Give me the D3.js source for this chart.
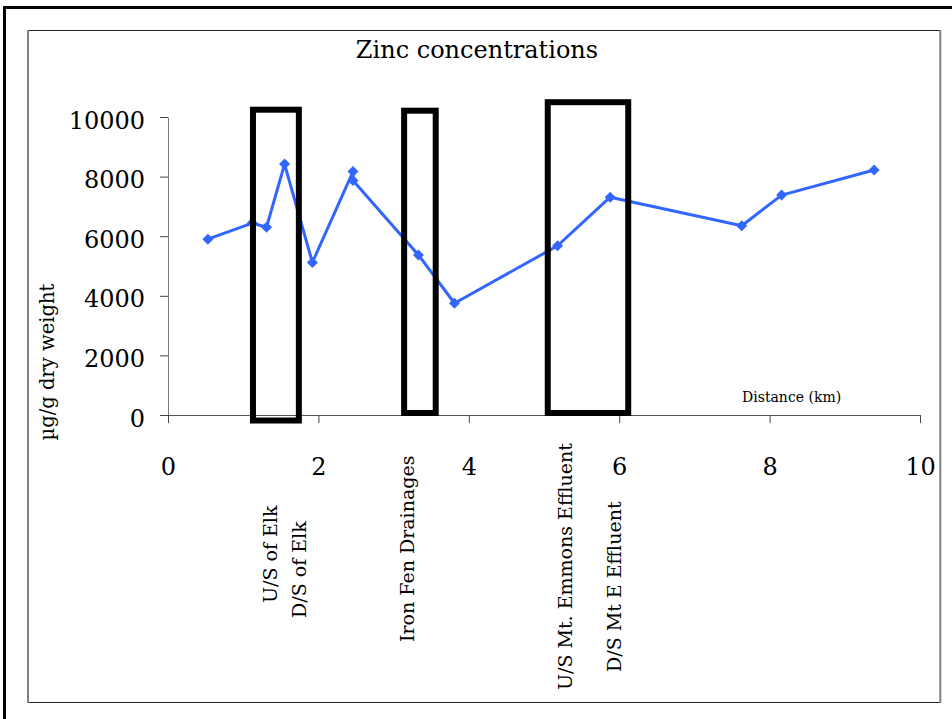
<!DOCTYPE html>
<html>
<head>
<meta charset="utf-8">
<script src="https://cdn.jsdelivr.net/npm/d3@7"></script>
<style>
  html, body { margin: 0; padding: 0; background: #fff; }
  svg { display: block; }
  text { font-family: "DejaVu Serif", "Liberation Serif", serif; fill: #000; }
</style>
</head>
<body>
<script>
// ---- data ----
const title = "Zinc concentrations";
const yTitle = "µg/g dry weight";
const xTitle = "Distance (km)";
const distance = [0.53, 1.12, 1.31, 1.55, 1.92, 2.46, 2.46, 3.33, 3.81, 5.18, 5.88, 7.63, 8.16, 9.39];
const zinc     = [5900, 6440, 6300, 8420, 5120, 8170, 7870, 5370, 3750, 5680, 7310, 6350, 7380, 8220];
const xTicks = [0, 2, 4, 6, 8, 10];
const yTicks = [0, 2000, 4000, 6000, 8000, 10000];
// highlighted reaches: [from km, to km, low, high]
const boxFrom = [1.13, 3.14, 5.05];
const boxTo   = [1.74, 3.56, 6.12];
const boxLow  = [-185, 67, 67];
const boxHigh = [10245, 10212, 10497];
// site annotations
const siteNames = ["U/S of Elk", "D/S of Elk", "Iron Fen Drainages", "U/S Mt. Emmons Effluent", "D/S Mt E Effluent"];
const siteKm    = [1.36, 1.74, 3.18, 5.29, 5.94];

// ---- layout ----
const W = 952, H = 719;
const siteBottom = [603, 618, 642, 690, 672]; // pixel y where each label starts

const svg = d3.select("body").append("svg").attr("width", W).attr("height", H);

// outer frame
svg.append("rect").attr("x", 4.5).attr("y", 7.5).attr("width", 1200).attr("height", 1200)
  .attr("fill", "none").attr("stroke", "#000").attr("stroke-width", 3);
// inner frame
svg.append("line").attr("x1", 28).attr("x2", 941).attr("y1", 30.5).attr("y2", 30.5).attr("stroke", "#222").attr("stroke-width", 1);
svg.append("line").attr("x1", 28).attr("x2", 941).attr("y1", 702.5).attr("y2", 702.5).attr("stroke", "#222").attr("stroke-width", 1);
svg.append("line").attr("x1", 28).attr("x2", 28).attr("y1", 30).attr("y2", 703).attr("stroke", "#808080").attr("stroke-width", 2);
svg.append("line").attr("x1", 940.3).attr("x2", 940.3).attr("y1", 30).attr("y2", 703).attr("stroke", "#808080").attr("stroke-width", 2);

const x = d3.scaleLinear().domain([0, 10]).range([168, 920]);
const y = d3.scaleLinear().domain([0, 10000]).range([415, 117]);

// title
svg.append("text").attr("x", 477).attr("y", 58).attr("text-anchor", "middle")
  .style("font-size", "24px").text(title);

// y axis
const gy = svg.append("g").attr("transform", `translate(${x(0)},0)`)
  .call(d3.axisLeft(y).tickValues(yTicks).tickFormat(d3.format("d")).tickSize(8).tickSizeOuter(0).tickPadding(15));
gy.select(".domain").attr("stroke", "#777");
gy.selectAll(".tick line").attr("stroke", "#444");
gy.selectAll(".tick text").style("font-size", "24px").style("font-family", "DejaVu Serif, serif").attr("fill", "#000").attr("dy", "0.46em");

// x axis
const gx = svg.append("g").attr("transform", `translate(0,${y(0)})`)
  .call(d3.axisBottom(x).tickValues(xTicks).tickSize(8).tickSizeOuter(0).tickPadding(35));
gx.select(".domain").attr("stroke", "#555");
gx.selectAll(".tick line").attr("stroke", "#444");
gx.selectAll(".tick text").style("font-size", "24px").style("font-family", "DejaVu Serif, serif").attr("fill", "#000");

// axis titles
svg.append("text").attr("transform", "translate(47,362) rotate(-90)").attr("text-anchor", "middle")
  .attr("dy", "0.35em").style("font-size", "19.5px").text(yTitle);
svg.append("text").attr("x", 742).attr("y", 402).style("font-size", "14px").text(xTitle);

// line + markers
const pts = distance.map((d, i) => [d, zinc[i]]);
svg.append("path").datum(pts)
  .attr("d", d3.line().x(d => x(d[0])).y(d => y(d[1])))
  .attr("fill", "none").attr("stroke", "#3366ff").attr("stroke-width", 3).attr("stroke-linejoin", "round");
svg.selectAll(".mk").data(pts).enter().append("path").attr("class", "mk")
  .attr("transform", d => `translate(${x(d[0])},${y(d[1])})`)
  .attr("d", "M0,-5.5L5.5,0L0,5.5L-5.5,0Z").attr("fill", "#3366ff");

// boxes
svg.selectAll(".box").data(boxFrom).enter().append("rect").attr("class", "box")
  .attr("x", (d, i) => x(d)).attr("width", (d, i) => x(boxTo[i]) - x(d))
  .attr("y", (d, i) => y(boxHigh[i])).attr("height", (d, i) => y(boxLow[i]) - y(boxHigh[i]))
  .attr("fill", "none").attr("stroke", "#000").attr("stroke-width", 6);

// site labels
svg.selectAll(".site").data(siteNames).enter().append("text").attr("class", "site")
  .attr("transform", (d, i) => `translate(${x(siteKm[i])},${siteBottom[i]}) rotate(-90)`)
  .attr("dy", "0.35em").style("font-size", "19px").text(d => d);
</script>
</body>
</html>
